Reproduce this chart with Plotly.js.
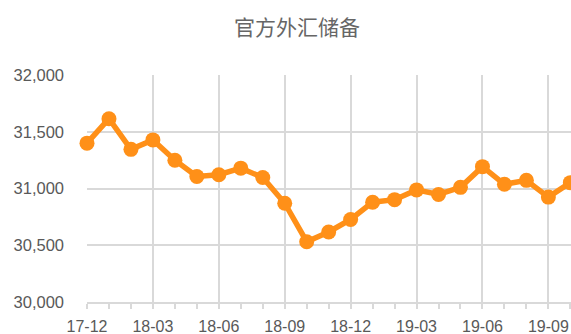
<!DOCTYPE html>
<html>
<head>
<meta charset="utf-8">
<script src="https://cdn.plot.ly/plotly-3.0.1.min.js"></script>
<style>html,body{margin:0;padding:0;background:#fff;}#chart{width:571px;height:334px;}</style>
</head>
<body>
<div id="chart"></div>
<script>
const months = ["17-12","18-01","18-02","18-03","18-04","18-05","18-06","18-07","18-08","18-09","18-10","18-11","18-12","19-01","19-02","19-03","19-04","19-05","19-06","19-07","19-08","19-09","19-10"];
const reserves = [31399.5,31614.6,31344.8,31428.2,31249.2,31106.2,31121.3,31179.5,31096.8,30870.3,30531.0,30617.0,30727.1,30879.2,30901.8,30987.6,30947.7,31010.0,31192.3,31037.0,31071.8,30924.3,31051.6];
const yTicks = [30000,30500,31000,31500,32000];

const idx = months.map((m,i)=>i);
const majorIdx = idx.filter(i => i % 3 === 0);

const grid = '#D9D9D9';
const txt = '#595959';

Plotly.newPlot('chart', [{
  x: idx,
  y: reserves,
  type: 'scatter',
  mode: 'lines+markers',
  line: {color: '#FF9018', width: 5.5},
  marker: {color: '#FF9018', size: 15},
  cliponaxis: false,
  hoverinfo: 'skip'
}], {
  width: 571, height: 334,
  margin: {l: 87, r: 0, t: 75, b: 32, pad: 0},
  paper_bgcolor: '#fff', plot_bgcolor: '#fff',
  showlegend: false,
  title: {text: '官方外汇储备', x: 0.52, xanchor: 'center', y: 0.918, yanchor: 'middle',
          font: {family: 'Noto Sans CJK SC, sans-serif', size: 21, color: '#666666'}},
  font: {family: 'Liberation Sans, Arial, sans-serif', size: 16, color: txt},
  xaxis: {
    range: [0, 22.03],
    tickmode: 'array',
    tickvals: majorIdx,
    ticktext: majorIdx.map(i => months[i]),
    showgrid: true, gridcolor: grid, gridwidth: 2,
    showline: true, linecolor: grid, linewidth: 2,
    ticks: 'outside', ticklen: 5, tickcolor: grid, tickwidth: 2,
    minor: {tickmode: 'linear', tick0: 0, dtick: 1, ticks: 'outside', ticklen: 5, tickcolor: grid, tickwidth: 2, showgrid: false},
    zeroline: false,
    tickfont: {size: 16, color: txt},
    ticklabelstandoff: 4,
    fixedrange: true
  },
  yaxis: {
    range: [30000, 32000],
    tickmode: 'array',
    tickvals: yTicks,
    ticktext: yTicks.map(v => v.toLocaleString('en-US')),
    showgrid: true, gridcolor: grid, gridwidth: 2,
    showline: false,
    ticks: '',
    zeroline: false,
    tickfont: {size: 16.5, color: txt},
    ticklabelstandoff: 22,
    fixedrange: true
  }
}, {displayModeBar: false, staticPlot: true});
</script>
</body>
</html>
